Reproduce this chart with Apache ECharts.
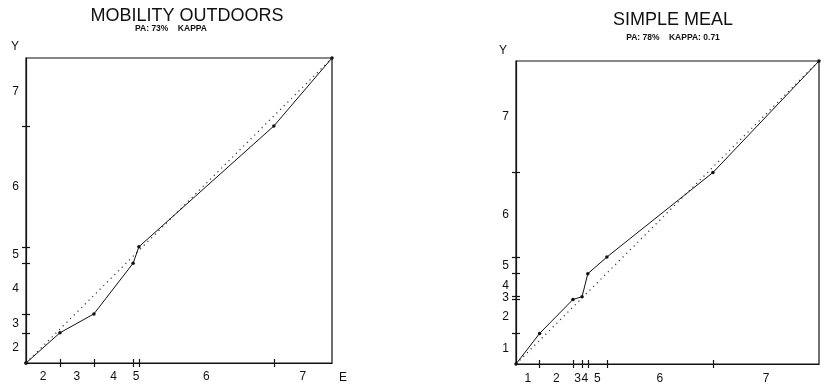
<!DOCTYPE html>
<html>
<head>
<meta charset="utf-8">
<script src="https://cdn.jsdelivr.net/npm/echarts@6/dist/echarts.min.js"></script>
<style>
  html, body { margin: 0; padding: 0; background: #fff; }
  #chart { width: 824px; height: 385px; }
</style>
</head>
<body>
<div id="chart"></div>
<script>
// category names (ordinal scale 1..7)
const categories = ['1', '2', '3', '4', '5', '6', '7']

// cumulative proportions at the end of each category
// E = horizontal axis, Y = vertical axis
const mobilityE = [0, 0.111, 0.222, 0.350, 0.369, 0.810, 1.0]
const mobilityY = [0, 0.099, 0.161, 0.327, 0.381, 0.777, 1.0]
const mealE = [0.078, 0.188, 0.218, 0.237, 0.300, 0.650, 1.0]
const mealY = [0.101, 0.213, 0.222, 0.298, 0.353, 0.632, 1.0]

// line of perfect agreement
const diagonal = [0, 1]

const INK = '#111'
const FONT = 'Liberation Sans'

const chart = echarts.init(document.getElementById('chart'), null, { renderer: 'canvas' })

// tick positions = boundaries between categories (skip 0 and 1)
const ticksOf = cum => cum.filter(v => v > 0 && v < 1)

// label positions = middle of each non empty category
const labelsOf = cum => {
  const out = []
  cum.forEach((v, i) => {
    const start = i === 0 ? 0 : cum[i - 1]
    if (v - start > 0) out.push({ pos: (start + v) / 2, name: categories[i] })
  })
  return out
}

const key = v => v.toFixed(5)

const makeAxes = (dim, gridIndex, cum, margin) => {
  const labs = labelsOf(cum)
  const nameMap = {}
  labs.forEach(l => { nameMap[key(l.pos)] = l.name })
  const base = {
    type: 'value',
    gridIndex,
    position: dim === 'x' ? 'bottom' : 'left',
    min: 0,
    max: 1,
    splitLine: { show: false },
    axisLine: { show: true, lineStyle: { color: INK, width: 1.2 } }
  }
  return [
    {
      ...base,
      axisTick: {
        show: true,
        length: 4,
        customValues: ticksOf(cum),
        lineStyle: { color: INK, width: 1.2 }
      },
      axisLabel: {
        show: true,
        customValues: labs.map(l => l.pos),
        formatter: v => nameMap[key(v)] || '',
        color: INK,
        fontFamily: FONT,
        fontSize: 12,
        margin,
        hideOverlap: false
      }
    },
    {
      ...base,
      axisLine: { show: false },
      axisTick: {
        show: true,
        inside: true,
        length: 4,
        customValues: ticksOf(cum),
        lineStyle: { color: INK, width: 1.2 }
      },
      axisLabel: { show: false }
    }
  ]
}

const points = (ex, wy) => [[0, 0]].concat(ex.map((v, i) => [v, wy[i]]))

const panelSeries = (axisIndex, ex, wy) => [
  {
    type: 'line',
    xAxisIndex: axisIndex,
    yAxisIndex: axisIndex,
    data: diagonal.map(v => [v, v]),
    symbol: 'none',
    silent: true,
    lineStyle: { color: '#333', width: 1.2, type: [1.2, 4] }
  },
  {
    type: 'line',
    xAxisIndex: axisIndex,
    yAxisIndex: axisIndex,
    data: points(ex, wy),
    symbol: 'circle',
    symbolSize: 3.5,
    itemStyle: { color: INK },
    lineStyle: { color: INK, width: 1 }
  }
]

const text = (x, y, str, size, weight) => ({
  type: 'text',
  x,
  y,
  style: {
    text: str,
    fill: INK,
    font: `${weight || 'normal'} ${size}px "${FONT}"`,
    align: 'center',
    verticalAlign: 'middle'
  }
})

const chartOption = {
  animation: false,
  backgroundColor: '#fff',
  grid: [
    { left: 26, top: 58, width: 306, height: 305, show: true, borderColor: INK, borderWidth: 1.2 },
    { left: 516, top: 61, width: 303, height: 305, show: true, borderColor: INK, borderWidth: 1.2 }
  ],
  xAxis: [
    ...makeAxes('x', 0, mobilityE, 8),
    ...makeAxes('x', 1, mealE, 9)
  ],
  yAxis: [
    ...makeAxes('y', 0, mobilityY, 7),
    ...makeAxes('y', 1, mealY, 7)
  ],
  series: [
    ...panelSeries(0, mobilityE, mobilityY),
    ...panelSeries(2, mealE, mealY)
  ],
  graphic: [
    text(187, 16, 'MOBILITY OUTDOORS', 18),
    text(171, 29, 'PA: 73%    KAPPA', 8.5, 'bold'),
    text(15, 47, 'Y', 12),
    text(343, 378, 'E', 12),
    text(673, 20, 'SIMPLE MEAL', 18),
    text(673, 38, 'PA: 78%    KAPPA: 0.71', 8.5, 'bold'),
    text(503, 51, 'Y', 12)
  ]
}

chart.setOption(chartOption)
</script>
</body>
</html>
